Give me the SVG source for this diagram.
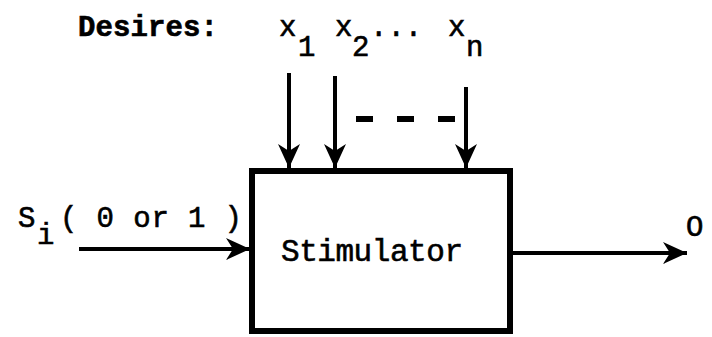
<svg xmlns="http://www.w3.org/2000/svg" width="712" height="337" viewBox="0 0 712 337">
<style>
.t{font-family:"Liberation Mono","DejaVu Sans Mono",monospace;fill:#000;stroke:#000;stroke-width:0.6;font-size:29px}
.ln{stroke:#000;stroke-width:4;fill:none}
</style>
<defs>
<marker id="ah" markerUnits="userSpaceOnUse" markerWidth="26" markerHeight="24" refX="24" refY="12" orient="auto">
<path d="M0,1 L24,12 L0,23 L7,12 Z" fill="#000"/>
</marker>
</defs>
<rect width="712" height="337" fill="#fff"/>
<g id="labels">
<text class="t" x="78" y="36" font-weight="bold" textLength="140" lengthAdjust="spacing">Desires:</text>
<text class="t" x="279" y="36">x</text>
<text class="t" x="298" y="56">1</text>
<text class="t" x="335" y="36">x</text>
<text class="t" x="352" y="56">2</text>
<text class="t" x="370" y="36">...</text>
<text class="t" x="448" y="36">x</text>
<text class="t" x="466" y="56">n</text>
<text class="t" x="18" y="227">S</text>
<text class="t" x="37" y="244">i</text>
<text class="t" x="60" y="227" textLength="182" lengthAdjust="spacing">( 0 or 1 )</text>
<text class="t" x="686" y="236">O</text>
</g>
<g id="stimulator">
<rect x="252" y="171" width="258" height="160" fill="none" stroke="#000" stroke-width="6"/>
<text class="t" x="281" y="261" font-size="31" textLength="182" lengthAdjust="spacing" style="font-size:31px">Stimulator</text>
</g>
<g id="connectors">
<line class="ln" x1="289" y1="73" x2="289" y2="168" marker-end="url(#ah)"/>
<line class="ln" x1="335" y1="76" x2="335" y2="168" marker-end="url(#ah)"/>
<line class="ln" x1="466" y1="87" x2="466" y2="168" marker-end="url(#ah)"/>
<line x1="356" y1="119" x2="455" y2="119" stroke="#000" stroke-width="6" stroke-dasharray="17,24"/>
<line class="ln" x1="79" y1="249" x2="250" y2="249" marker-end="url(#ah)"/>
<line class="ln" x1="513" y1="253" x2="687" y2="253" marker-end="url(#ah)"/>
</g>
</svg>
